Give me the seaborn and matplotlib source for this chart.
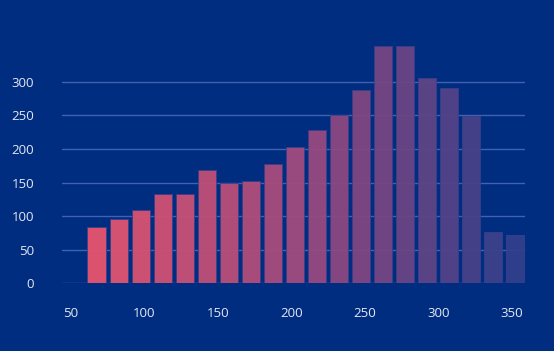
import numpy as np
import pandas as pd
import matplotlib
matplotlib.use("Agg")
import matplotlib.pyplot as plt
from matplotlib.colors import LinearSegmentedColormap, to_hex
import seaborn as sns

# bin centres (15-wide bins) and counts
bin_centers = [67.5, 82.5, 97.5, 112.5, 127.5, 142.5, 157.5, 172.5, 187.5, 202.5,
               217.5, 232.5, 247.5, 262.5, 277.5, 292.5, 307.5, 322.5, 337.5, 352.5]
counts = [84, 95, 109, 133, 133, 168, 150, 153, 177, 203,
          228, 250, 288, 353, 353, 306, 290, 249, 76, 72]
x_ticks = [50, 100, 150, 200, 250, 300, 350]
y_ticks = [0, 50, 100, 150, 200, 250, 300]

bg = "#002d80"
text_col = "#e4e8f3"

df = pd.DataFrame({"x": bin_centers, "count": counts})

# pink -> purple -> blue gradient across the bars
cmap = LinearSegmentedColormap.from_list("grad", ["#e5546f", "#9b4a7e", "#323f8c"])
palette = [to_hex(cmap(i / (len(counts) - 1))) for i in range(len(counts))]

sns.set_style("white")
plt.rcParams["font.family"] = ["Open Sans", "DejaVu Sans"]

fig = plt.figure(figsize=(5.54, 3.51), dpi=100)
fig.patch.set_facecolor(bg)
ax = fig.add_axes([0.1119, 0.1929, 0.8357, 0.689])
ax.set_facecolor(bg)

sns.barplot(data=df, x="x", y="count", hue="x", palette=palette, native_scale=True,
            width=0.82, saturation=1, legend=False, ax=ax, edgecolor="#3a3f8a",
            linewidth=0.6, alpha=0.96, zorder=2)

ax.set_xlim(44, 359)
ax.set_ylim(0, 360)
ax.set_xticks(x_ticks)
ax.set_yticks(y_ticks)
ax.yaxis.grid(True, color="#3f62b2", linewidth=1.0, zorder=1)
ax.set_axisbelow(True)
for s in ax.spines.values():
    s.set_visible(False)
ax.tick_params(axis="both", length=0, colors=text_col, labelsize=9.5)
ax.tick_params(axis="x", pad=17)
ax.tick_params(axis="y", pad=20)
ax.set_xlabel("")
ax.set_ylabel("")

fig.savefig("out.png", dpi=100, facecolor=bg)
